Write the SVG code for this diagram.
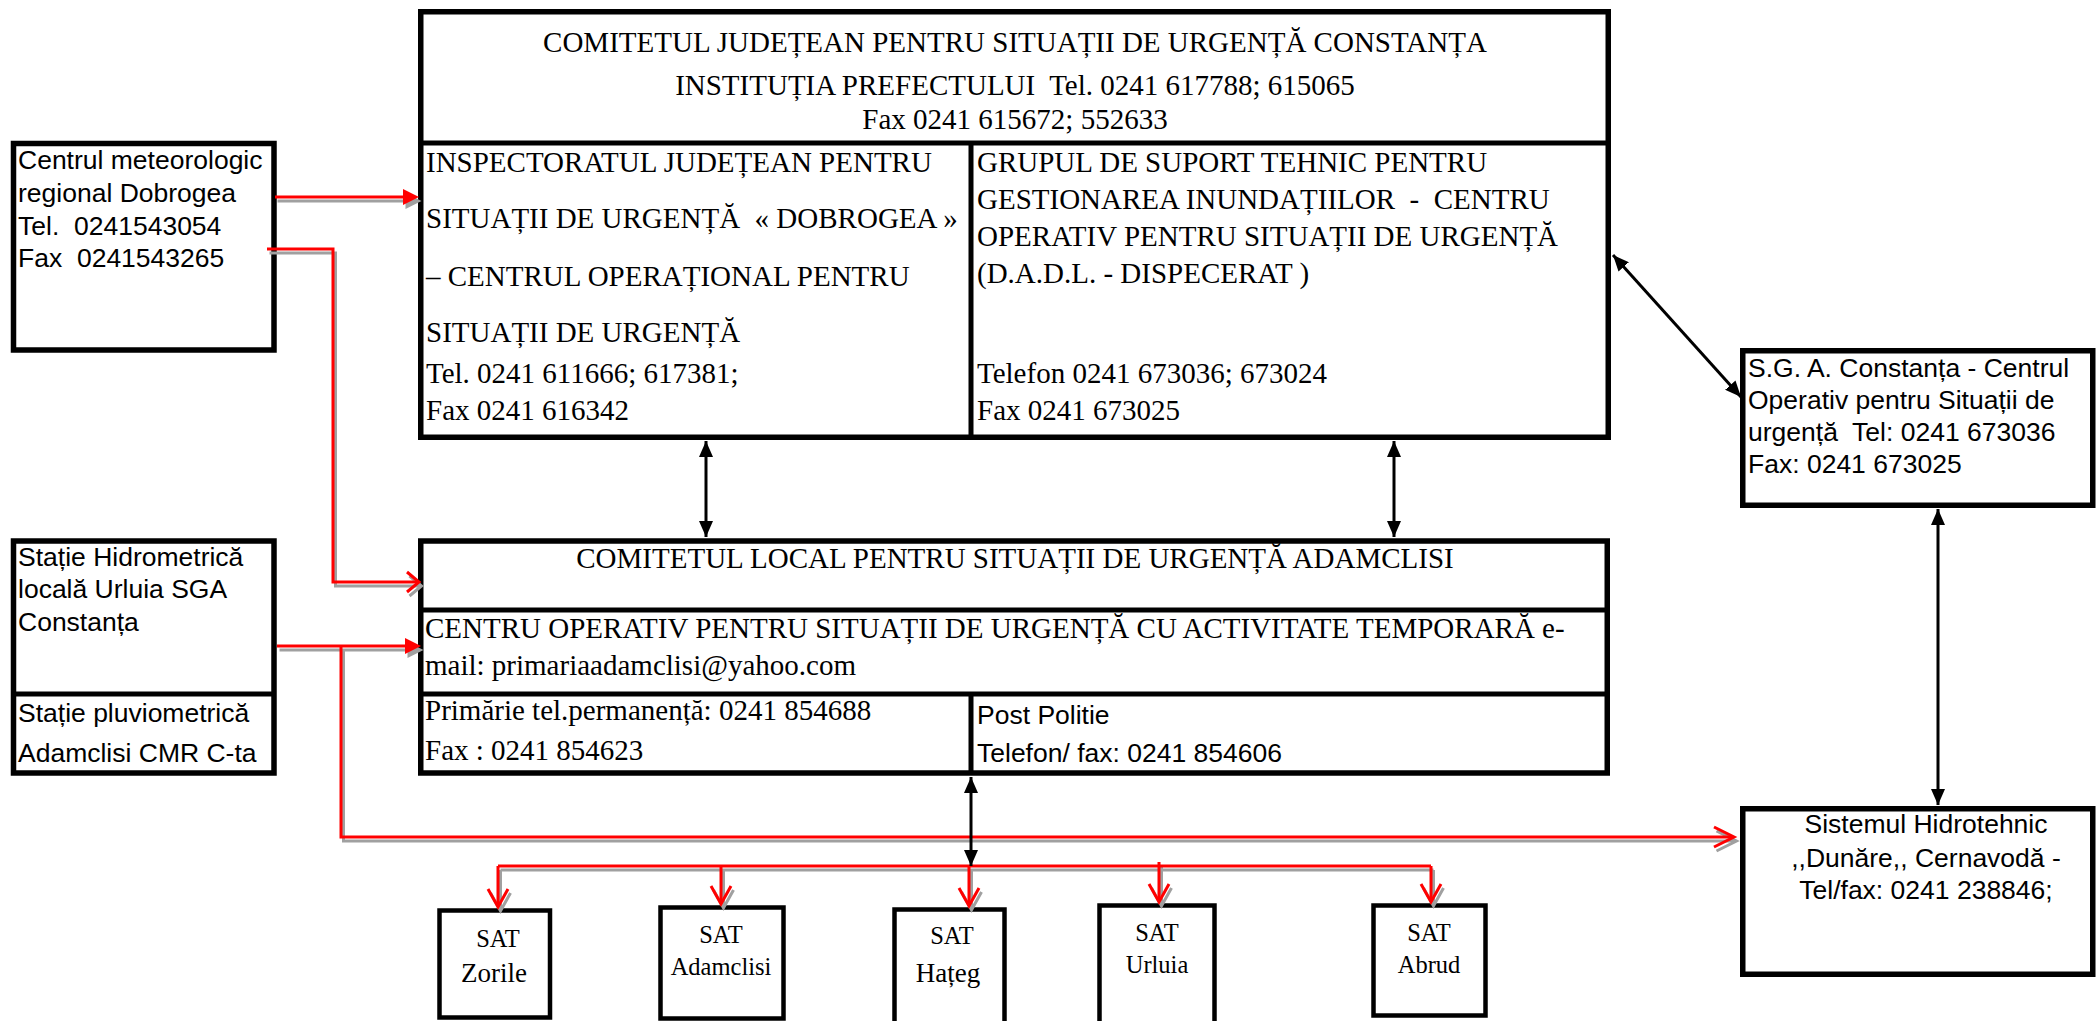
<svg xmlns="http://www.w3.org/2000/svg" xmlns:xlink="http://www.w3.org/1999/xlink" width="2096" height="1021" viewBox="0 0 2096 1021">
<style>
.box{fill:#fff;stroke:#000;stroke-width:5.5}
.div{fill:none;stroke:#000;stroke-width:5}
.sat{fill:#fff;stroke:#000;stroke-width:4.5}
.tr{font-family:"Liberation Serif","Times New Roman",serif;font-size:29px;fill:#000;white-space:pre}
.ar{font-family:"Liberation Sans",Arial,sans-serif;font-size:26.5px;fill:#000;white-space:pre}
.st{font-family:"Liberation Serif","Times New Roman",serif;font-size:24.5px;fill:#000}
.mid{text-anchor:middle}
.blk{fill:none;stroke:#000;stroke-width:3}
.rl{fill:none;stroke:currentColor;stroke-width:3}
.rf{fill:currentColor;stroke:none}
</style>
<defs>
<marker id="ab" markerUnits="userSpaceOnUse" markerWidth="16" markerHeight="14" viewBox="0 0 16 14" refX="16" refY="7" orient="auto-start-reverse">
<path d="M0,0 L16,7 L0,14 z" fill="#000"/>
</marker>
<g id="redpaths">
<path class="rl" d="M275,197 H406"/>
<polygon class="rf" points="403,189 419,197 403,205"/>
<path class="rl" d="M267,249 H333 V582 H417"/>
<path class="rl" d="M407,572 L419,582 L407,592"/>
<path class="rl" d="M277,646 H408"/>
<polygon class="rf" points="405,638 421,646 405,654"/>
<path class="rl" d="M341,646 V837 H1732"/>
<path class="rl" d="M1714,827 L1734,837 L1714,847"/>
<path class="rl" d="M498,866 H1431"/>
<path class="rl" d="M498,866 V906 M721,866 V903 M969,866 V905 M1159,862 V901 M1431,866 V901"/>
<path class="rl" d="M488,889 L498,907 L508,889 M711,886 L721,904 L731,886 M959,888 L969,906 L979,888 M1149,884 L1159,902 L1169,884 M1421,884 L1431,902 L1441,884"/>
</g>
</defs>
<rect width="2096" height="1021" fill="#fff"/>

<g id="cjsu">
<rect class="box" x="420.75" y="11.75" width="1187.5" height="425.5"/>
<path class="div" d="M420,143 H1609 M971,143 V437"/>
<text class="tr mid" x="1015" y="52">COMITETUL JUDEȚEAN PENTRU SITUAȚII DE URGENȚĂ CONSTANȚA</text>
<text class="tr mid" x="1015" y="95">INSTITUȚIA PREFECTULUI  Tel. 0241 617788; 615065</text>
<text class="tr mid" x="1015" y="129">Fax 0241 615672; 552633</text>
</g>
<g id="isu">
<text class="tr" x="426" y="172">INSPECTORATUL JUDEȚEAN PENTRU</text>
<text class="tr" x="426" y="228">SITUAȚII DE URGENȚĂ  « DOBROGEA »</text>
<text class="tr" x="426" y="286">– CENTRUL OPERAȚIONAL PENTRU</text>
<text class="tr" x="426" y="342">SITUAȚII DE URGENȚĂ</text>
<text class="tr" x="426" y="383">Tel. 0241 611666; 617381;</text>
<text class="tr" x="426" y="420">Fax 0241 616342</text>
</g>
<g id="gst">
<text class="tr" x="977" y="172">GRUPUL DE SUPORT TEHNIC PENTRU</text>
<text class="tr" x="977" y="209">GESTIONAREA INUNDAȚIILOR  -  CENTRU</text>
<text class="tr" x="977" y="246">OPERATIV PENTRU SITUAȚII DE URGENȚĂ</text>
<text class="tr" x="977" y="283">(D.A.D.L. - DISPECERAT )</text>
<text class="tr" x="977" y="383">Telefon 0241 673036; 673024</text>
<text class="tr" x="977" y="420">Fax 0241 673025</text>
</g>

<g id="meteo">
<rect class="box" x="13.5" y="143.5" width="260.5" height="206.5"/>
<text class="ar" x="18" y="169">Centrul meteorologic</text>
<text class="ar" x="18" y="202">regional Dobrogea</text>
<text class="ar" x="18" y="235">Tel.  0241543054</text>
<text class="ar" x="18" y="267">Fax  0241543265</text>
</g>

<g id="statii">
<rect class="box" x="13.5" y="541" width="260.5" height="232"/>
<path class="div" d="M13,694 H275"/>
<text class="ar" x="18" y="566">Stație Hidrometrică</text>
<text class="ar" x="18" y="598">locală Urluia SGA</text>
<text class="ar" x="18" y="631">Constanța</text>
<text class="ar" x="18" y="722">Stație pluviometrică</text>
<text class="ar" x="18" y="762">Adamclisi CMR C-ta</text>
</g>

<g id="clsu">
<rect class="box" x="420.75" y="541" width="1186.5" height="232"/>
<path class="div" d="M420,610 H1608 M420,694 H1608 M971,694 V773"/>
<text class="tr mid" x="1015" y="568">COMITETUL LOCAL PENTRU SITUAȚII DE URGENȚĂ ADAMCLISI</text>
<text class="tr" x="425" y="638">CENTRU OPERATIV PENTRU SITUAȚII DE URGENȚĂ CU ACTIVITATE TEMPORARĂ e-</text>
<text class="tr" x="425" y="675">mail: primariaadamclisi@yahoo.com</text>
<text class="tr" x="425" y="720">Primărie tel.permanență: 0241 854688</text>
<text class="tr" x="425" y="760">Fax : 0241 854623</text>
<text class="ar" x="977" y="724">Post Politie</text>
<text class="ar" x="977" y="762">Telefon/ fax: 0241 854606</text>
</g>

<g id="sga">
<rect class="box" x="1742.75" y="350.75" width="350" height="154.5"/>
<text class="ar" x="1748" y="377">S.G. A. Constanța - Centrul</text>
<text class="ar" x="1748" y="409">Operativ pentru Situații de</text>
<text class="ar" x="1748" y="441">urgență  Tel: 0241 673036</text>
<text class="ar" x="1748" y="473">Fax: 0241 673025</text>
</g>

<g id="sistemul">
<rect class="box" x="1742.75" y="808.75" width="350" height="165.5"/>
<text class="ar mid" x="1926" y="833">Sistemul Hidrotehnic</text>
<text class="ar mid" x="1926" y="867">,,Dunăre,, Cernavodă -</text>
<text class="ar mid" x="1926" y="899">Tel/fax: 0241 238846;</text>
</g>

<g id="sat-zorile">
<rect class="sat" x="439.5" y="910.5" width="110.5" height="107"/>
<text class="st mid" x="498" y="947">SAT</text>
<text class="st mid" x="494" y="982" style="font-size:27px">Zorile</text>
</g>
<g id="sat-adamclisi">
<rect class="sat" x="660.5" y="907.5" width="123" height="111"/>
<text class="st mid" x="721" y="943">SAT</text>
<text class="st mid" x="721" y="975">Adamclisi</text>
</g>
<g id="sat-hateg">
<rect class="sat" x="894.5" y="909.5" width="110" height="120"/>
<text class="st mid" x="952" y="944">SAT</text>
<text class="st mid" x="948" y="982" style="font-size:27px">Hațeg</text>
</g>
<g id="sat-urluia">
<rect class="sat" x="1099.5" y="905.5" width="115" height="125"/>
<text class="st mid" x="1157" y="941">SAT</text>
<text class="st mid" x="1157" y="973">Urluia</text>
</g>
<g id="sat-abrud">
<rect class="sat" x="1373.5" y="905.5" width="112" height="110"/>
<text class="st mid" x="1429" y="941">SAT</text>
<text class="st mid" x="1429" y="973">Abrud</text>
</g>

<g id="connectors">
<use xlink:href="#redpaths" href="#redpaths" transform="translate(2.5,4)" style="color:#a0a0a0"/>
<use xlink:href="#redpaths" href="#redpaths" style="color:#ff0000"/>
<path class="blk" d="M706,441 V537" marker-start="url(#ab)" marker-end="url(#ab)"/>
<path class="blk" d="M1394,441 V537" marker-start="url(#ab)" marker-end="url(#ab)"/>
<path class="blk" d="M971,777 V866" marker-start="url(#ab)" marker-end="url(#ab)"/>
<path class="blk" d="M1613,255 L1741,397" marker-start="url(#ab)" marker-end="url(#ab)"/>
<path class="blk" d="M1938,509 V805" marker-start="url(#ab)" marker-end="url(#ab)"/>
</g>
</svg>
